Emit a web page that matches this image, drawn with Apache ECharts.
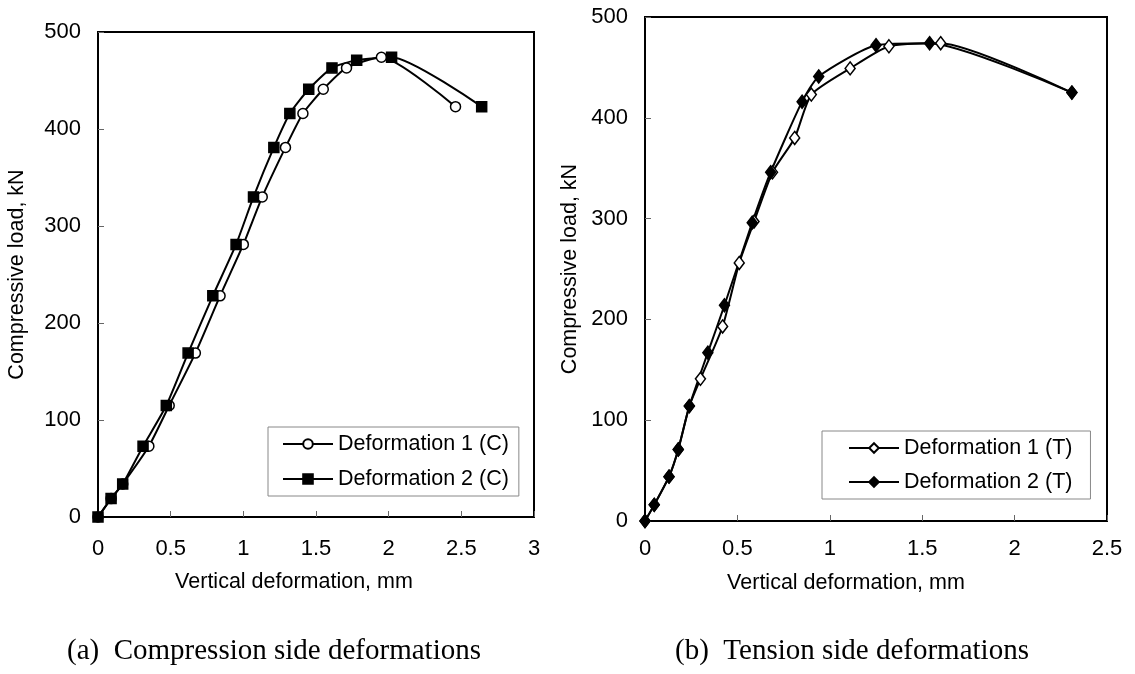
<!DOCTYPE html>
<html>
<head>
<meta charset="utf-8">
<script src="https://cdn.jsdelivr.net/npm/echarts@6/dist/echarts.min.js"></script>
<style>
  html, body { margin: 0; padding: 0; background: #fff; }
  #chart { width: 1135px; height: 674px; }
</style>
</head>
<body>
<div id="chart"></div>
<script>
// (a) compression side, deformation in mm / load in kN
const compX1 = [0, 0.09, 0.17, 0.35, 0.49, 0.67, 0.84, 1.00, 1.13, 1.29, 1.41, 1.55, 1.71, 1.95, 2.46];
const compY1 = [0, 19, 34, 73, 115, 169, 228, 281, 330, 381, 416, 441, 463, 474, 423];
const compX2 = [0, 0.09, 0.17, 0.31, 0.47, 0.62, 0.79, 0.95, 1.07, 1.21, 1.32, 1.45, 1.61, 1.78, 2.02, 2.64];
const compY2 = [0, 19, 34, 73, 115, 169, 228, 281, 330, 381, 416, 441, 463, 471, 474, 423];

// (b) tension side
const tensX1 = [0, 0.05, 0.13, 0.18, 0.24, 0.30, 0.42, 0.51, 0.59, 0.69, 0.81, 0.90, 1.11, 1.32, 1.60, 2.31];
const tensY1 = [0, 16, 44, 71, 114, 141, 193, 256, 297, 346, 380, 423, 449, 471, 474, 425];
const tensX2 = [0, 0.05, 0.13, 0.18, 0.24, 0.34, 0.43, 0.58, 0.68, 0.85, 0.94, 1.25, 1.54, 2.31];
const tensY2 = [0, 16, 44, 71, 114, 167, 214, 296, 346, 416, 441, 472, 474, 425];

const legendComp = ['Deformation 1 (C)', 'Deformation 2 (C)'];
const legendTens = ['Deformation 1 (T)', 'Deformation 2 (T)'];
const captionA = '(a)  Compression side deformations';
const captionB = '(b)  Tension side deformations';

const FONT = '"Liberation Sans", Arial, sans-serif';
const SERIF = '"Liberation Serif", "Times New Roman", serif';

function pairs(xs, ys) {
  return xs.map((x, i) => [x, ys[i]]);
}

function xAxisOf(gridIndex, max, labelMargin, nameGap, shift) {
  return {
    type: 'value', gridIndex: gridIndex, min: 0, max: max, interval: 0.5,
    name: 'Vertical deformation, mm', nameLocation: 'middle', nameGap: nameGap,
    nameTextStyle: { fontSize: 21.5, color: '#000', fontFamily: FONT, padding: [0, shift, 0, 0] },
    axisLine: { show: true, onZero: false, lineStyle: { color: '#000', width: 2 } },
    axisTick: { show: true, inside: true, length: 6, lineStyle: { color: '#666', width: 1 } },
    axisLabel: { fontSize: 22, color: '#000', fontFamily: FONT, margin: labelMargin },
    splitLine: { show: false }
  };
}

function yAxisOf(gridIndex, nameGap) {
  return {
    type: 'value', gridIndex: gridIndex, min: 0, max: 500, interval: 100,
    name: 'Compressive load, kN', nameLocation: 'middle', nameGap: nameGap,
    nameTextStyle: { fontSize: 21.5, color: '#000', fontFamily: FONT },
    axisLine: { show: true, onZero: false, lineStyle: { color: '#000', width: 2 } },
    axisTick: { show: true, inside: true, length: 6, lineStyle: { color: '#666', width: 1 } },
    axisLabel: { fontSize: 22, color: '#000', fontFamily: FONT, margin: 17 },
    splitLine: { show: false }
  };
}

function lineOf(name, idx, data, symbol, size, fill) {
  return {
    name: name, type: 'line', xAxisIndex: idx, yAxisIndex: idx,
    data: data, smooth: 0.2,
    symbol: symbol, symbolSize: size,
    lineStyle: { color: '#000', width: 2 },
    itemStyle: { color: fill, borderColor: '#000', borderWidth: 1.5 },
    emphasis: { disabled: true }
  };
}

function legendOf(names, left, top, padding, gap) {
  return {
    data: names, orient: 'vertical', left: left, top: top,
    padding: padding, itemGap: gap,
    itemWidth: 50, itemHeight: 12,
    borderColor: '#888', borderWidth: 1,
    textStyle: { fontSize: 21.5, color: '#000', fontFamily: FONT },
    selectedMode: false
  };
}

const option = {
  backgroundColor: '#fff',
  animation: false,
  title: [
    { text: captionA, left: 67, top: 637, padding: 0,
      textStyle: { fontSize: 29, fontWeight: 'normal', color: '#000', fontFamily: SERIF } },
    { text: captionB, left: 675, top: 637, padding: 0,
      textStyle: { fontSize: 29, fontWeight: 'normal', color: '#000', fontFamily: SERIF } }
  ],
  grid: [
    { left: 98, top: 32, width: 436, height: 485, show: true, borderColor: '#000', borderWidth: 2, backgroundColor: 'transparent' },
    { left: 645, top: 17, width: 462, height: 504, show: true, borderColor: '#000', borderWidth: 2, backgroundColor: 'transparent' }
  ],
  legend: [
    legendOf(legendComp, 268, 427, [6, 10, 6, 14], 13),
    legendOf(legendTens, 822, 431, [6, 18, 6, 26], 12)
  ],
  xAxis: [
    xAxisOf(0, 3, 21, 54, 44),
    xAxisOf(1, 2.5, 17, 51, 60)
  ],
  yAxis: [
    yAxisOf(0, 70),
    yAxisOf(1, 64)
  ],
  series: [
    lineOf(legendComp[0], 0, pairs(compX1, compY1), 'circle', 10, '#fff'),
    lineOf(legendComp[1], 0, pairs(compX2, compY2), 'rect', 10, '#000'),
    lineOf(legendTens[0], 1, pairs(tensX1, tensY1), 'diamond', [10, 13], '#fff'),
    lineOf(legendTens[1], 1, pairs(tensX2, tensY2), 'diamond', [10, 13], '#000')
  ]
};

const chart = echarts.init(document.getElementById('chart'));
chart.setOption(option);
window.addEventListener('resize', () => {
  chart.resize();
});
</script>
</body>
</html>
